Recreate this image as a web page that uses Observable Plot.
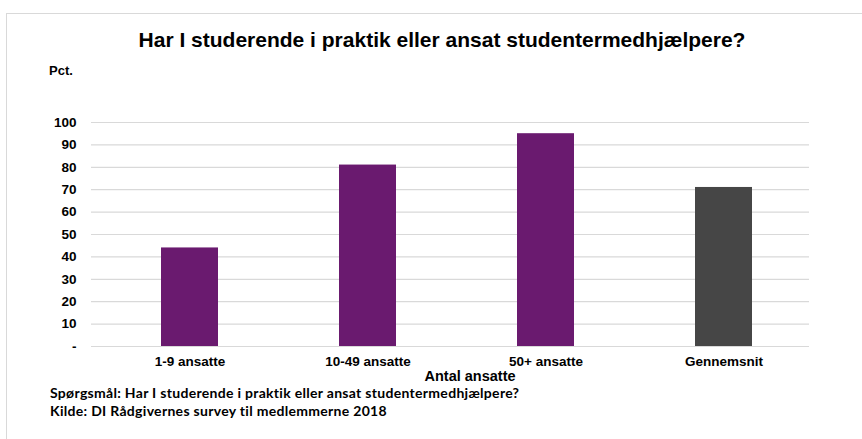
<!DOCTYPE html>
<html>
<head>
<meta charset="utf-8">
<script src="https://cdn.jsdelivr.net/npm/d3@7"></script>
<script src="https://cdn.jsdelivr.net/npm/@observablehq/plot@0.6"></script>
<style>
  html, body { margin: 0; padding: 0; background: #fff; }
  #wrap { position: relative; width: 862px; height: 439px; overflow: hidden; background: #fff; }
  #frame { position: absolute; left: 6px; top: 13px; width: 860px; height: 430px;
           border-top: 1.5px solid #d9d9d9; border-left: 1.5px solid #d9d9d9; box-sizing: border-box; }
  .t { position: absolute; white-space: nowrap; color: #000; line-height: 1; }
  #title { left: 442px; transform: translateX(-50%); top: 28px; font: bold 21px "Liberation Sans", Arial, sans-serif; }
  #unit { left: 49px; top: 63px; font: bold 13px "Liberation Sans", Arial, sans-serif; }
  #xlabel { left: 470px; transform: translateX(-50%); top: 369px; font: bold 14.5px "Liberation Sans", Arial, sans-serif; line-height: 15px; }
  .foot { left: 50px; font: bold 14px Lato, "Open Sans", sans-serif; letter-spacing: 0.3px; line-height: 15px; }
  #q { top: 385px; }
  #src { top: 403px; }
  #chart { position: absolute; left: 0; top: 100px; }
</style>
</head>
<body>
<div id="wrap">
  <div id="frame"></div>
  <div id="title" class="t">Har I studerende i praktik eller ansat studentermedhjælpere?</div>
  <div id="unit" class="t">Pct.</div>
  <div id="chart"></div>
  <div id="xlabel" class="t">Antal ansatte</div>
  <div id="q" class="t foot">Spørgsmål: Har I studerende i praktik eller ansat studentermedhjælpere?</div>
  <div id="src" class="t foot">Kilde: DI Rådgivernes survey til medlemmerne 2018</div>
</div>
<script>
const categories = ["1-9 ansatte", "10-49 ansatte", "50+ ansatte", "Gennemsnit"];
const values = [44, 81, 95, 71];
const yTicks = [0, 10, 20, 30, 40, 50, 60, 70, 80, 90, 100];
const yTickLabels = ["-", "10", "20", "30", "40", "50", "60", "70", "80", "90", "100"];

const data = categories.map((c, i) => ({category: c, value: values[i]}));
const purple = "#6a1a6f";
const gray = "#464646";

const chart = Plot.plot({
  width: 862,
  height: 272,
  marginTop: 22,
  marginBottom: 26,
  marginLeft: 91,
  marginRight: 53,
  style: {fontFamily: "'Liberation Sans', Arial, sans-serif", color: "#000", background: "transparent"},
  x: {domain: categories, range: [99, 813], paddingInner: 0.68, paddingOuter: 0.34, label: null, tickSize: 0, tickPadding: 10},
  y: {domain: [0, 100], ticks: yTicks, label: null, tickSize: 0, tickPadding: 15},
  marks: [
    Plot.ruleY(yTicks, {stroke: "#d9d9d9", strokeWidth: 1.2}),
    Plot.barY(data, {x: "category", y: "value", fill: d => d.category === "Gennemsnit" ? gray : purple}),
    Plot.axisY({ticks: yTicks, tickFormat: v => yTickLabels[yTicks.indexOf(v)], tickSize: 0, tickPadding: 15, fontSize: 13.5, fontWeight: "bold", label: null}),
    Plot.axisX({tickSize: 0, tickPadding: 10, fontSize: 13.5, fontWeight: "bold", label: null})
  ]
});
document.getElementById("chart").appendChild(chart);
</script>
</body>
</html>
